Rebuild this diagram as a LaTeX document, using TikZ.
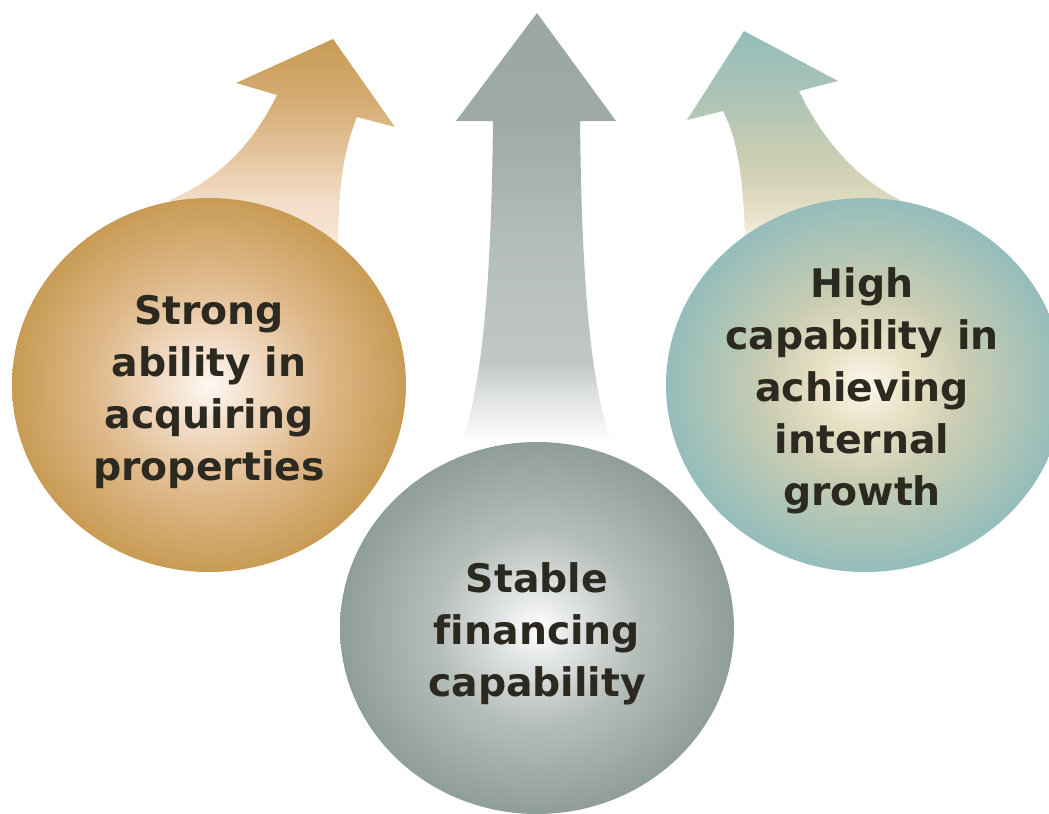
\documentclass[tikz,border=0pt]{standalone}
\usepackage{fontspec}
\setmainfont[Ligatures=CommonOff]{DejaVu Sans}
\usepackage{tikz}
\definecolor{mytan}{RGB}{200,155,85}
\definecolor{mytanmid}{RGB}{221,183,135}
\definecolor{mytanpeach}{RGB}{242,220,198}
\definecolor{mytanlight}{RGB}{253,248,242}
\definecolor{mygrey}{RGB}{143,158,150}
\definecolor{mygreymid}{RGB}{181,189,186}
\definecolor{mygreylight}{RGB}{224,227,227}
\definecolor{myteal}{RGB}{148,189,187}
\definecolor{mysage}{RGB}{200,204,178}
\definecolor{mybeige}{RGB}{232,224,196}
\definecolor{mybeigelight}{RGB}{251,248,238}
\definecolor{mytext}{RGB}{43,41,32}
% Kugeln
\pgfdeclareradialshading{tanball}{\pgfpoint{0bp}{0bp}}{color(0bp)=(mytanlight); color(6bp)=(mytanpeach); color(15bp)=(mytanmid); color(25bp)=(mytan); color(50bp)=(mytan)}
\pgfdeclareradialshading{greyball}{\pgfpoint{0bp}{0bp}}{color(0bp)=(white); color(5bp)=(mygreylight); color(13bp)=(mygreymid); color(25bp)=(mygrey); color(50bp)=(mygrey)}
\pgfdeclareradialshading{tealball}{\pgfpoint{0bp}{0bp}}{color(0bp)=(mybeigelight); color(6bp)=(mybeige); color(13bp)=(mysage); color(25bp)=(myteal); color(50bp)=(myteal)}
% Pfeile
\pgfdeclareverticalshading{tanarrow}{100bp}{color(0bp)=(white); color(27bp)=(white!60!mytanpeach); color(30bp)=(mytanpeach!70!white); color(39bp)=(mytanpeach); color(50bp)=(mytanmid!70!mytanpeach); color(61bp)=(mytanmid!60!mytan); color(75bp)=(mytan); color(100bp)=(mytan)}
\pgfdeclareverticalshading{greyarrow}{100bp}{color(0bp)=(white); color(27bp)=(white); color(32bp)=(mygreylight); color(36bp)=(mygreymid!85!white); color(49bp)=(mygreymid); color(63bp)=(mygrey!60!mygreymid); color(75bp)=(mygrey!90!white); color(100bp)=(mygrey)}
\pgfdeclareverticalshading{tealarrow}{100bp}{color(0bp)=(white); color(27bp)=(mybeigelight); color(31bp)=(mybeige!80!white); color(39bp)=(mybeige!50!mysage); color(48bp)=(mysage); color(59bp)=(mysage!50!myteal); color(75bp)=(myteal); color(100bp)=(myteal)}
\tikzset{balltext/.style={align=center, text=mytext, font=\fontsize{28}{37}\selectfont\bfseries}}

\begin{document}
\begin{tikzpicture}[x=0.25mm, y=-0.25mm]
	% Bildbereich
	\useasboundingbox (0,0) rectangle (1049,813);
	\clip (0,0) rectangle (1049,813);
	% Pfeile zeichnen
	\shade[shading=tanarrow]
		(333,39) -- (395,127) -- (357,117) .. controls (342,155) and (338,190) .. (338,260)
		-- (170,230) -- (170,200) .. controls (215,180) and (250,150) .. (277,95) -- (236,83) -- cycle;
	\shade[shading=greyarrow]
		(537,13) -- (616,121) -- (580,121) .. controls (582,300) and (592,400) .. (618,460)
		-- (455,460) .. controls (481,400) and (491,300) .. (493,121) -- (456,121) -- cycle;
	\shade[shading=tealarrow]
		(744,31) -- (838,81) -- (799,91) .. controls (825,145) and (860,180) .. (900,200)
		-- (900,230) -- (745,250) -- (745,235) .. controls (743,180) and (738,140) .. (723,111) -- (687,120) -- cycle;
	% Kreise zeichnen
	\shade[shading=tanball] (209,385) ellipse [x radius=197, y radius=187];
	\shade[shading=greyball] (537,628) ellipse [x radius=197, y radius=186];
	\shade[shading=tealball] (865,385) ellipse [x radius=199, y radius=187];
	% Beschriftung
	\node[balltext] (strong) at (209,392) {Strong\\ability in\\acquiring\\properties};
	\node[balltext] (stable) at (537,634) {Stable\\financing\\capability};
	\node[balltext] (high) at (862,391) {High\\capability in\\achieving\\internal\\growth};
\end{tikzpicture}
\end{document}
